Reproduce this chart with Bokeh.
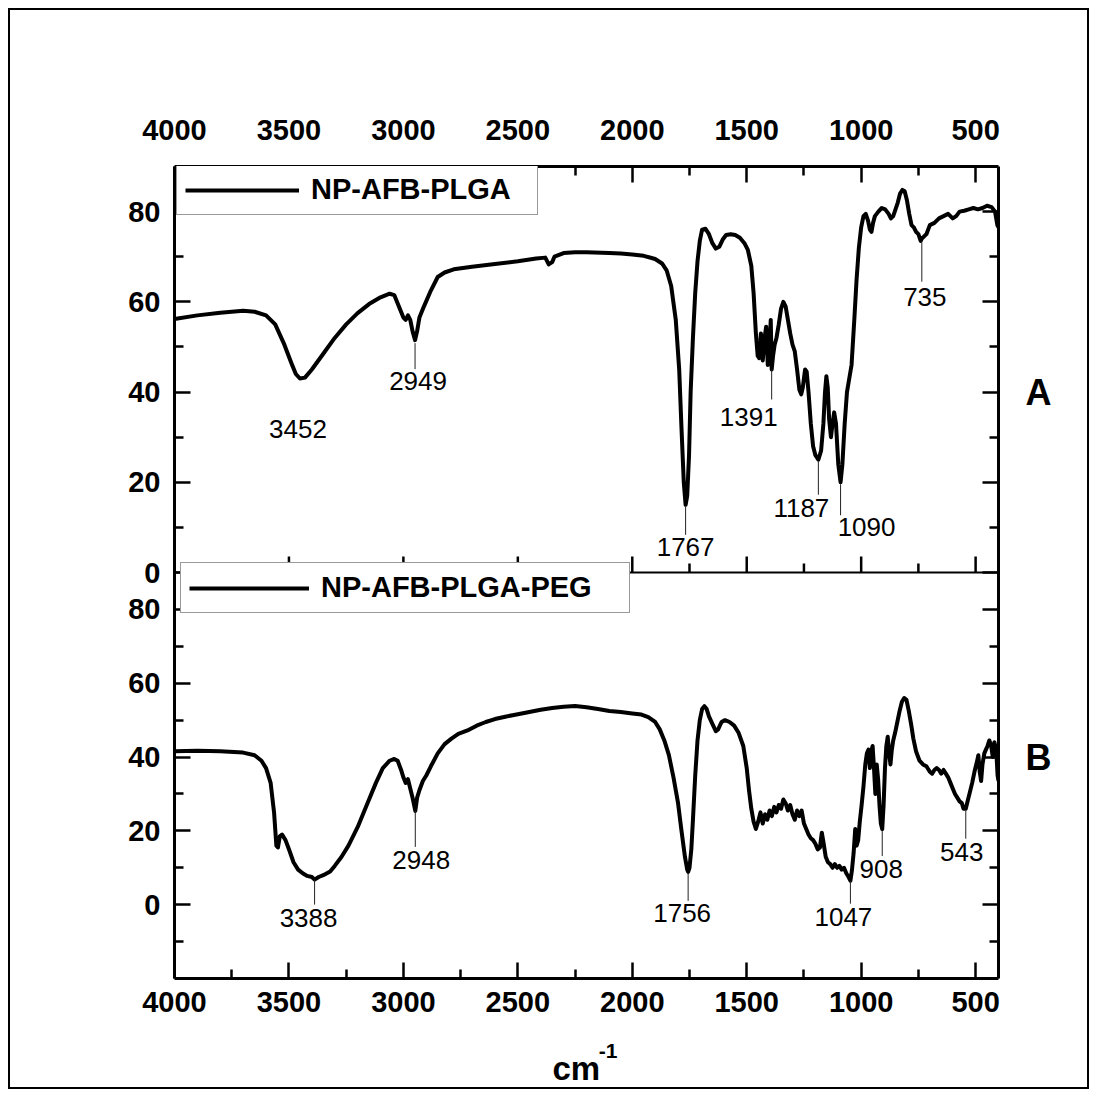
import numpy as np
from bokeh.plotting import figure
from bokeh.models import (Range1d, LinearAxis, FixedTicker, CustomJSTickFormatter, Span,
                          Legend, LegendItem, Title, ColumnDataSource)
from bokeh.core.properties import value
from bokeh.embed import file_html
from bokeh.resources import INLINE

# ---------------- data ----------------
name_a = "NP-AFB-PLGA"
name_b = "NP-AFB-PLGA-PEG"
panel_a = "A"
panel_b = "B"
x_title = "cm"
x_title_sup = "-1"

wn_a = [4000, 3900, 3800, 3700, 3650, 3600, 3560, 3520, 3490, 3470, 3452, 3430, 3400, 3350, 3300,
        3250, 3200, 3150, 3100, 3060, 3040, 3020, 3000, 2990, 2980, 2970, 2960, 2949, 2940, 2930,
        2910, 2880, 2850, 2820, 2780, 2700, 2600, 2500, 2420, 2380, 2365, 2350, 2340, 2300, 2250,
        2200, 2100, 2050, 2000, 1950, 1900, 1870, 1850, 1830, 1810, 1795, 1785, 1775, 1767, 1760,
        1752, 1745, 1735, 1725, 1715, 1705, 1695, 1680, 1665, 1650, 1635, 1620, 1605, 1590, 1570,
        1550, 1530, 1510, 1495, 1480, 1470, 1460, 1452, 1445, 1438, 1430, 1422, 1415, 1408, 1400,
        1395, 1391, 1385, 1378, 1370, 1360, 1350, 1340, 1330, 1320, 1310, 1300, 1290, 1280, 1270,
        1262, 1255, 1245, 1238, 1230, 1220, 1210, 1200, 1187, 1175, 1165, 1158, 1152, 1146, 1140,
        1132, 1125, 1118, 1110, 1100, 1090, 1082, 1072, 1062, 1052, 1042, 1030, 1020, 1010, 1000,
        990, 980, 970, 962, 955, 948, 940, 925, 910, 895, 880, 870, 860, 850, 840,
        830, 820, 810, 800, 790, 780, 770, 760, 750, 740, 735, 725, 715, 700, 680,
        660, 640, 620, 600, 585, 570, 550, 530, 510, 490, 470, 450, 430, 415, 405, 400]
t_a = [56.2, 57.0, 57.6, 58.0, 57.8, 57.0, 55.0, 50.5, 46.5, 44.0, 43.0, 43.2, 45.0, 48.5, 52.0,
       55.0, 57.5, 59.5, 61.0, 61.8, 61.5, 59.0, 56.5, 56.0, 57.0, 56.0, 53.5, 51.5, 53.5, 56.5,
       59.0, 62.5, 65.5, 66.5, 67.2, 67.8, 68.4, 69.0, 69.6, 69.8, 68.3, 68.8, 70.0, 70.8, 71.0,
       71.0, 70.8, 70.7, 70.5, 70.2, 69.5, 68.5, 67.0, 63.5, 56.0, 45.0, 32.0, 20.0, 15.0, 17.0,
       26.0, 40.0, 52.0, 62.0, 69.0, 73.5, 76.0, 76.2, 75.0, 73.0, 71.8, 72.2, 73.8, 74.8, 75.0,
       74.8, 74.2, 73.0, 71.5, 68.0, 62.0, 53.0, 48.0, 47.5, 53.0, 47.0, 52.0, 54.5, 46.0, 51.0,
       56.0, 45.0, 48.0, 50.5, 52.0, 55.0, 58.5, 60.0, 59.0, 56.0, 53.0, 50.5, 49.0, 45.0, 40.5,
       39.5, 41.0, 45.0, 44.5, 40.0, 33.0, 28.0, 26.0, 25.0, 27.0, 33.0, 40.0, 43.5, 41.0, 34.0,
       30.0, 33.0, 35.5, 33.0, 24.0, 20.0, 24.0, 33.0, 40.0, 43.0, 46.0, 56.0, 65.0, 72.0, 76.5,
       79.0, 79.5, 78.0, 76.0, 75.5, 77.5, 79.0, 80.0, 80.8, 80.5, 79.5, 78.5, 79.0, 80.5, 82.0,
       84.0, 84.8, 84.5, 82.5, 79.5, 77.0, 76.5, 75.5, 75.0, 73.5, 74.0, 74.5, 75.0, 77.0, 77.5,
       78.5, 79.0, 79.5, 78.5, 79.0, 80.0, 80.2, 80.5, 80.8, 80.5, 80.8, 81.3, 81.0, 80.0, 77.0, 76.5]

wn_b = [4000, 3900, 3800, 3700, 3650, 3620, 3600, 3580, 3565, 3555, 3548, 3540, 3530, 3515, 3500,
        3480, 3460, 3440, 3420, 3400, 3388, 3370, 3350, 3320, 3300, 3270, 3240, 3200, 3160, 3120,
        3090, 3060, 3040, 3025, 3010, 3000, 2990, 2980, 2970, 2960, 2948, 2940, 2930, 2915, 2900,
        2880, 2850, 2820, 2790, 2760, 2720, 2680, 2640, 2600, 2550, 2500, 2450, 2400, 2350, 2300,
        2250, 2200, 2150, 2100, 2050, 2000, 1960, 1930, 1900, 1880, 1860, 1840, 1820, 1800, 1785,
        1770, 1760, 1756, 1750, 1742, 1735, 1725, 1715, 1705, 1695, 1685, 1675, 1665, 1650, 1635,
        1625, 1610, 1595, 1575, 1555, 1535, 1515, 1500, 1490, 1480, 1470, 1460, 1450, 1440, 1430,
        1420, 1410, 1400, 1390, 1380, 1370, 1360, 1350, 1340, 1330, 1320, 1310, 1300, 1290, 1280,
        1270, 1260, 1250, 1240, 1230, 1220, 1210, 1200, 1190, 1180, 1172, 1165, 1155, 1145, 1135,
        1125, 1115, 1105, 1095, 1085, 1075, 1065, 1055, 1047, 1040, 1033, 1026, 1020, 1013, 1006,
        998, 990, 982, 975, 968, 962, 956, 950, 944, 938, 932, 926, 920, 914, 908,
        902, 896, 890, 884, 878, 872, 866, 860, 852, 842, 832, 822, 812, 802, 792,
        782, 772, 760, 745, 730, 715, 700, 690, 680, 670, 660, 650, 640, 630, 620,
        610, 600, 590, 580, 570, 560, 553, 543, 535, 525, 515, 505, 495, 488, 482,
        476, 470, 462, 455, 448, 440, 432, 425, 418, 410, 404, 400]
t_b = [41.6, 41.7, 41.6, 41.2, 40.5, 39.0, 37.0, 33.0, 25.0, 16.0, 15.5, 18.5, 19.0, 17.5, 15.0,
       11.5, 9.5, 8.5, 7.8, 7.5, 6.8, 7.5, 8.0, 9.0, 10.5, 13.0, 16.0, 21.0, 27.0, 33.0,
       37.0, 39.0, 39.5, 39.0, 36.5, 34.5, 33.0, 34.0, 31.5, 29.0, 25.4, 29.0, 31.0, 33.5, 35.0,
       37.5, 41.0, 43.5, 45.0, 46.3, 47.2, 48.5, 49.5, 50.3, 51.0, 51.6, 52.2, 52.8, 53.3, 53.6,
       53.8, 53.5, 53.0, 52.5, 52.2, 51.8, 51.5, 50.8, 49.5, 47.5, 44.5, 40.5, 34.5, 27.5, 20.0,
       13.0, 9.5, 8.9, 10.0, 15.0, 23.0, 35.0, 44.5, 50.0, 53.0, 53.8, 53.0, 51.0, 49.0, 47.0,
       47.5, 49.5, 50.0, 49.5, 48.5, 46.5, 43.0, 37.0, 31.0, 26.0, 22.5, 20.5, 22.5, 25.0, 22.0,
       24.5, 23.0, 25.5, 24.0, 26.5, 25.0, 27.0, 26.0, 28.5, 27.5, 25.5, 27.0, 24.5, 23.0, 25.5,
       24.0, 25.5, 22.0, 20.5, 19.0, 18.0, 17.5, 16.5, 15.0, 15.5, 19.5, 17.0, 13.0, 11.5, 11.0,
       10.0, 11.0, 10.0, 10.5, 9.5, 10.0, 8.5, 7.5, 6.5, 9.5, 14.0, 20.5, 16.0, 17.5, 22.5,
       27.0, 32.0, 38.0, 41.0, 42.0, 37.0, 41.5, 43.0, 37.0, 30.0, 38.0, 34.0, 27.0, 22.0, 20.5,
       27.0, 37.0, 43.0, 45.5, 41.0, 38.0, 42.0, 44.5, 46.5, 49.5, 52.5, 55.0, 56.0, 55.5, 52.5,
       49.0, 45.0, 41.5, 39.0, 38.0, 37.5, 36.0, 35.5, 36.5, 37.0, 36.5, 35.5, 36.5, 35.5, 34.5,
       33.0, 31.5, 30.0, 29.0, 28.0, 27.5, 26.0, 26.0, 28.0, 30.5, 33.0, 36.0, 38.5, 40.5, 36.0,
       33.5, 38.0, 41.0, 42.0, 43.0, 44.5, 43.0, 40.0, 44.0, 42.0, 35.0, 33.5]

peaks_a = [3452, 2949, 1767, 1391, 1187, 1090, 735]
peaks_b = [3388, 2948, 1756, 1047, 908, 543]

x_ticks = [4000, 3500, 3000, 2500, 2000, 1500, 1000, 500]
x_minor = [3750, 3250, 2750, 2250, 1750, 1250, 750]
y_ticks_a = [0, 20, 40, 60, 80]
y_minor_a = [10, 30, 50, 70]
y_ticks_b = [0, 20, 40, 60, 80]
y_minor_b = [-10, 10, 30, 50, 70]
panel_label_y = 40   # panel letters sit at this level of each panel

x_lim = (4000, 400)
lim_a = (0, 90)     # upper panel
lim_b = (-20, 90)   # lower panel

# ---------------- layout / style ----------------
W, H = 1081, 1081
ML, MR, MT, MB = 164, 93, 156, 113
FW = W - ML - MR
FH = H - MT - MB
FONT = "Liberation Sans"
SUP_PX = 433.5          # horizontal centre of the superscript, px from the frame's left
CM_PX = 378             # left edge of "cm", px from the frame's left

# upper panel occupies upper half of the frame, lower panel the lower half
full_a = (lim_a[0] - (lim_a[1] - lim_a[0]), lim_a[1])
full_b = (lim_b[0], lim_b[1] + (lim_b[1] - lim_b[0]))
ppu_a = FH / (full_a[1] - full_a[0])
ppu_b = FH / (full_b[1] - full_b[0])
k = (full_a[1] - full_a[0]) / (full_b[1] - full_b[0])


def b_to_a(v):
    return full_a[0] + (v - full_b[0]) * k


p = figure(width=W, height=H, x_range=Range1d(*x_lim), y_range=Range1d(*full_a),
           output_backend="svg", toolbar_location=None,
           x_axis_location=None, y_axis_location=None,
           min_border_left=ML, min_border_right=MR, min_border_top=MT, min_border_bottom=MB,
           outline_line_color=None, background_fill_color="white", border_fill_color="white",
           styles={"border": "2px solid black", "margin": "8px"})
p.extra_y_ranges = {"bot": Range1d(*full_b)}
p.grid.visible = False


def style_axis(ax, size="29px"):
    ax.axis_line_width = 3
    ax.major_tick_in = 16
    ax.major_tick_out = 0
    ax.minor_tick_in = 9
    ax.minor_tick_out = 0
    ax.major_tick_line_width = 2.5
    ax.minor_tick_line_width = 2.5
    ax.major_label_text_font = FONT
    ax.major_label_text_font_style = "bold"
    ax.major_label_text_font_size = size
    ax.major_label_text_color = "black"


xt = FixedTicker(ticks=x_ticks, minor_ticks=x_minor)
ax_top = LinearAxis(ticker=xt)
style_axis(ax_top)
ax_top.major_label_standoff = 27
p.add_layout(ax_top, "above")
ax_bot = LinearAxis(ticker=xt)
style_axis(ax_bot)
ax_bot.major_label_standoff = 13
p.add_layout(ax_bot, "below")

# superscript of the x title, carried by a bare axis under the main one
sup_x = x_lim[0] - SUP_PX / FW * (x_lim[0] - x_lim[1])
ax_sup = LinearAxis(ticker=FixedTicker(ticks=[sup_x], minor_ticks=[]),
                    formatter=CustomJSTickFormatter(code=f'return "{x_title_sup}";'))
ax_sup.axis_line_color = None
ax_sup.major_tick_line_color = None
ax_sup.minor_tick_line_color = None
ax_sup.major_tick_in = 0
ax_sup.major_tick_out = 0
ax_sup.minor_tick_in = 0
ax_sup.minor_tick_out = 0
ax_sup.major_label_standoff = 29
ax_sup.major_label_text_font = FONT
ax_sup.major_label_text_font_style = "bold"
ax_sup.major_label_text_font_size = "21px"
ax_sup.major_label_text_color = "black"
p.add_layout(ax_sup, "below")

p.add_layout(Title(text=x_title, align="left", offset=CM_PX, standoff=-26,
                   text_font=FONT, text_font_style="bold", text_font_size="33px",
                   text_color="black"), "below")

yt = FixedTicker(ticks=y_ticks_a + [b_to_a(v) for v in y_ticks_b],
                 minor_ticks=y_minor_a + [b_to_a(v) for v in y_minor_b])
fmt = CustomJSTickFormatter(code=f"""
if (tick >= -1e-6) {{ return Math.round(tick).toString(); }}
return Math.round((tick - ({full_a[0]})) / {k} + ({full_b[0]})).toString();
""")
ax_left = LinearAxis(ticker=yt, formatter=fmt)
style_axis(ax_left)
ax_left.major_label_standoff = 14
p.add_layout(ax_left, "left")

# right axis: ticks only, panel letters as its labels at the panel_label_y level
ya_lab = panel_label_y
yb_lab = b_to_a(panel_label_y)
fmt_r = CustomJSTickFormatter(code=f"""
if (Math.abs(tick - ({ya_lab})) < 1e-6) {{ return "{panel_a}"; }}
if (Math.abs(tick - ({yb_lab})) < 1e-6) {{ return "{panel_b}"; }}
return "";
""")
ax_right = LinearAxis(ticker=yt, formatter=fmt_r)
style_axis(ax_right, size="36px")
ax_right.major_label_standoff = 27
ax_right.major_label_text_align = "left"
p.add_layout(ax_right, "right")

# divider between the two panels with inward ticks of the upper panel
p.add_layout(Span(location=lim_a[0], dimension="width", line_color="black", line_width=2))
p.segment(x0=x_ticks, y0=[lim_a[0]] * len(x_ticks), x1=x_ticks,
          y1=[lim_a[0] + 16 / ppu_a] * len(x_ticks), line_color="black", line_width=2.5)
p.segment(x0=x_minor, y0=[lim_a[0]] * len(x_minor), x1=x_minor,
          y1=[lim_a[0] + 9 / ppu_a] * len(x_minor), line_color="black", line_width=2.5)

# spectra
r_a = p.line(wn_a, t_a, line_color="black", line_width=4, line_join="round")
r_b = p.line(wn_b, t_b, line_color="black", line_width=4, line_join="round", y_range_name="bot")

# peak annotations (offsets in pixels relative to the peak)
off_a = {3452: (-2, 50, None), 2949: (3, 41, (3, 29)), 1767: (0, 42, (2, 30)),
         1391: (-23, 47, (0, 30)), 1187: (-17, 48, (2, 35)), 1090: (26, 45, (2, 33)),
         735: (3, 58, (3, 43))}
off_b = {3388: (-6, 38, (0, 25)), 2948: (6, 49, (0, 36)), 1756: (-6, 41, (2, 29)),
         1047: (-7, 36, (0, 23)), 908: (-1, 40, (2, 27)), 543: (-4, 43, (2, 30))}


def annotate(peaks, wn, tv, offs, ppu, rng):
    xs = np.array(wn[::-1], float)
    ys = np.array(tv[::-1], float)
    lx, ly, lt, xo, yo = [], [], [], [], []
    sx0, sy0, sx1, sy1 = [], [], [], []
    for pk in peaks:
        yv = float(np.interp(pk, xs, ys))
        dx, dy, lead = offs[pk]
        lx.append(pk); ly.append(yv); lt.append(str(pk)); xo.append(dx); yo.append(dy)
        if lead is not None:
            sx0.append(pk); sx1.append(pk)
            sy0.append(yv - lead[0] / ppu); sy1.append(yv - lead[1] / ppu)
    kw = {} if rng is None else {"y_range_name": rng}
    p.segment(x0=sx0, y0=sy0, x1=sx1, y1=sy1, line_color="#222222", line_width=1, **kw)
    src = ColumnDataSource(dict(x=lx, y=ly, text=lt, xo=xo, yo=yo))
    p.text(x="x", y="y", text="text", x_offset="xo", y_offset="yo", source=src,
           text_font=value(FONT), text_font_size="26px", text_color="black",
           text_align="center", text_baseline="middle", **kw)


annotate(peaks_a, wn_a, t_a, off_a, ppu_a, None)
annotate(peaks_b, wn_b, t_b, off_b, ppu_b, "bot")


# legends
def make_legend(label, rend, loc, gw, lw):
    lg = Legend(items=[LegendItem(label=label, renderers=[rend])], location=loc,
                orientation="vertical", margin=0, padding=8, spacing=0,
                glyph_width=gw, glyph_height=32, label_standoff=12, label_width=lw,
                label_text_font=FONT, label_text_font_style="bold", label_text_font_size="29px",
                label_text_color="black",
                border_line_color="#333333", border_line_width=1,
                background_fill_color="white", background_fill_alpha=1.0)
    p.add_layout(lg, "center")


make_legend(name_a, r_a, (2, FH - 49), 114, 218)
make_legend(name_b, r_b, (6, 365), 120, 300)

open("out.html", "w").write(file_html(p, INLINE))
